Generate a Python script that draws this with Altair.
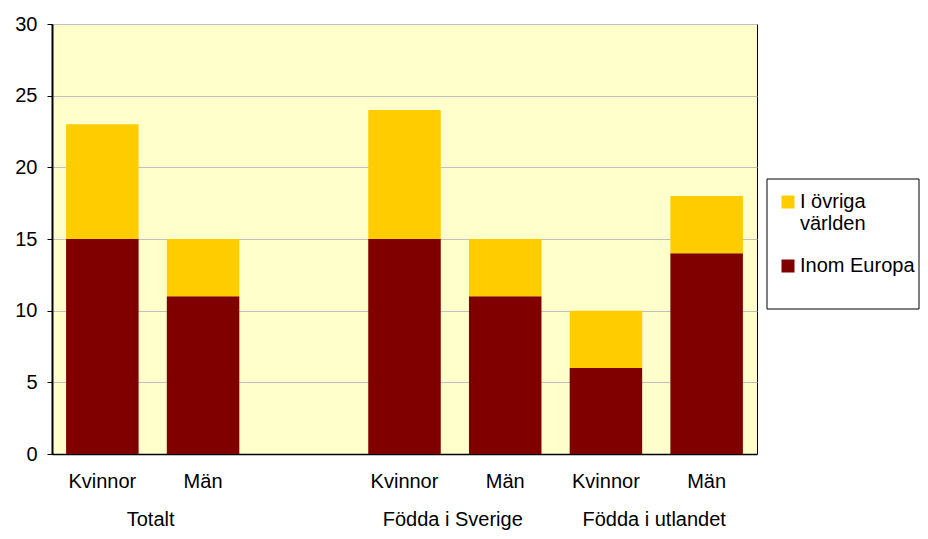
import altair as alt
import pandas as pd

# ---- data ----
slots = ["T_K", "T_M", "gap", "S_K", "S_M", "U_K", "U_M"]
slot_labels = ["Kvinnor", "Män", "", "Kvinnor", "Män", "Kvinnor", "Män"]
bar_slots = ["T_K", "T_M", "S_K", "S_M", "U_K", "U_M"]
inom_europa = [15, 11, 15, 11, 6, 14]
ovriga_varlden = [8, 4, 9, 4, 4, 4]
series = ["I övriga världen", "Inom Europa"]
colors = ["#FFCC00", "#800000"]
groups = ["Totalt", "Födda i Sverige", "Födda i utlandet"]
group_anchor = ["T_K", "S_K", "U_K"]
y_ticks = [0, 5, 10, 15, 20, 25, 30]

rows = []
for s, e, o in zip(bar_slots, inom_europa, ovriga_varlden):
    rows.append({"slot": s, "series": series[1], "value": e, "ord": 0})
    rows.append({"slot": s, "series": series[0], "value": o, "ord": 1})
df = pd.DataFrame(rows)
gdf = pd.DataFrame({"group": groups, "anchor": group_anchor})

FONT = "Liberation Sans"
FS = 20
W, H = 705, 430
PAD = {"left": 44, "top": 16, "right": 163, "bottom": 77}

dom_js = "[" + ",".join("'%s'" % s for s in slots) + "]"
lab_js = "[" + ",".join("'%s'" % s for s in slot_labels) + "]"
label_expr = f"{lab_js}[indexof({dom_js}, datum.value)]"

xscale = alt.Scale(domain=slots, paddingInner=0.28, paddingOuter=0.14)
xaxis = alt.Axis(title=None, labelAngle=0, labelExpr=label_expr, ticks=False,
                 domainColor="black", domainWidth=1.5, labelFontSize=FS,
                 labelFont=FONT, labelColor="black", labelPadding=17)

# legend frame (decoration)
frame = alt.Chart(pd.DataFrame({"a": [0]})).mark_rect(
    fill="white", stroke="black", strokeWidth=1
).encode(
    x=alt.value(W + 10), x2=alt.value(W + PAD["right"] - 1), y=alt.value(155), y2=alt.value(285)
)

bars = alt.Chart(df).mark_bar().encode(
    x=alt.X("slot:N", scale=xscale, sort=slots, axis=xaxis),
    y=alt.Y("value:Q", stack="zero", scale=alt.Scale(domain=[0, 30], nice=False),
            axis=alt.Axis(title=None, values=y_ticks, domainColor="black", domainWidth=2,
                          tickColor="black", tickSize=5, labelFontSize=FS, labelFont=FONT,
                          labelColor="black", labelPadding=10, gridColor="#c0c0c0")),
    color=alt.Color("series:N", scale=alt.Scale(domain=series, range=colors),
                    legend=alt.Legend(title=None, orient="none", legendX=W + 21, legendY=168,
                                      padding=0, strokeColor="transparent",
                                      symbolType="square", symbolSize=169, symbolStrokeWidth=0,
                                      labelFontSize=FS, labelFont=FONT, labelColor="black",
                                      labelOffset=2, rowPadding=22, labelLimit=200,
                                      labelExpr="datum.label == 'I övriga världen' ? ['I övriga', 'världen'] : datum.label")),
    order=alt.Order("ord:Q"),
)

glabels = alt.Chart(gdf).mark_text(fontSize=FS, font=FONT, color="black", baseline="alphabetic", dx=12).encode(
    x=alt.X("anchor:N", scale=xscale, sort=slots, bandPosition=1, axis=xaxis),
    y=alt.value(H + 72),
    text="group:N",
)

chart = alt.layer(frame, bars, glabels).properties(
    width=W, height=H,
    autosize=alt.AutoSizeParams(type="none"),
    padding=PAD,
    background="white",
).configure_view(fill="#FFFFCC", stroke="black", strokeWidth=1)

chart.save("out.html", embed_options={"renderer": "svg", "actions": False})
